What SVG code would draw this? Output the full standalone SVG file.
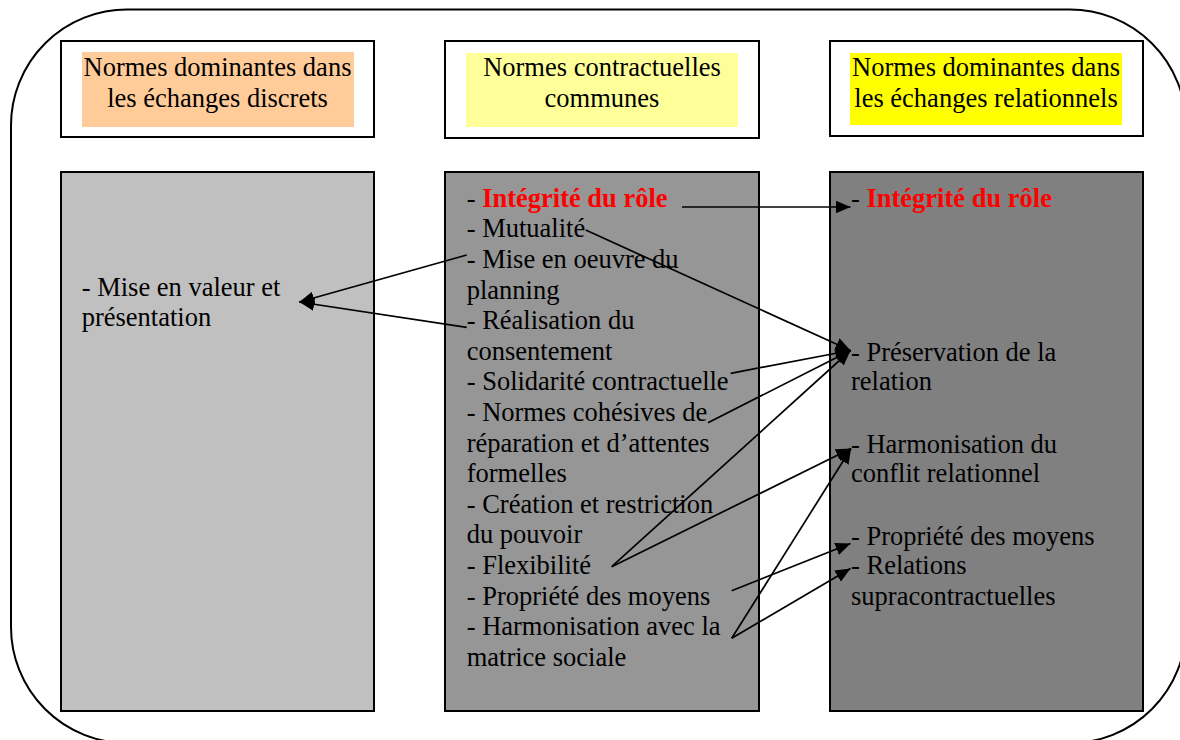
<svg xmlns="http://www.w3.org/2000/svg" width="1180" height="740" viewBox="0 0 1180 740">
<style>
.t{font-family:"Liberation Serif","Times New Roman",serif;font-size:26.5px;fill:#000}
.h{text-anchor:middle}
.red{fill:#FF0000;font-weight:bold}
.box{stroke:#000;stroke-width:2}
.c{stroke:#000;stroke-width:1.7;fill:none;marker-end:url(#ah)}
</style>
<defs>
<marker id="ah" markerUnits="userSpaceOnUse" markerWidth="16" markerHeight="14" refX="15" refY="6.5" orient="auto">
<path d="M0,0 L15,6.5 L0,13 z" fill="#000"/>
</marker>
</defs>
<rect x="11" y="9.5" width="1175" height="733.5" rx="116" ry="116" fill="#fff" stroke="#000" stroke-width="2"/>

<g id="header-discrets">
<rect class="box" x="61" y="41" width="313" height="96" fill="#fff"/>
<rect x="82" y="52" width="272" height="75" fill="#FFCC99"/>
<text class="t h" x="217.5" y="76">Normes dominantes dans</text>
<text class="t h" x="217.5" y="106.6">les échanges discrets</text>
</g>
<g id="header-communes">
<rect class="box" x="445" y="41" width="314" height="97" fill="#fff"/>
<rect x="466" y="53" width="272" height="74" fill="#FFFF99"/>
<text class="t h" x="602" y="76">Normes contractuelles</text>
<text class="t h" x="602" y="106.6">communes</text>
</g>
<g id="header-relationnels">
<rect class="box" x="830" y="41" width="313" height="95" fill="#fff"/>
<rect x="850" y="53" width="272" height="72" fill="#FFFF00"/>
<text class="t h" x="986" y="76">Normes dominantes dans</text>
<text class="t h" x="986" y="106.6">les échanges relationnels</text>
</g>

<g id="col-discrets">
<rect class="box" x="61" y="172" width="313" height="539" fill="#C0C0C0"/>
<text class="t" x="81.7" y="295.5">- Mise en valeur et</text>
<text class="t" x="81.7" y="326">présentation</text>
</g>

<g id="col-communes">
<rect class="box" x="445" y="172" width="314" height="539" fill="#969696"/>
<text class="t" x="466.7" y="206.7">- <tspan class="red">Intégrité du rôle</tspan></text>
<text class="t" x="466.7" y="237.3">- Mutualité</text>
<text class="t" x="466.7" y="267.9">- Mise en oeuvre du</text>
<text class="t" x="466.7" y="298.5">planning</text>
<text class="t" x="466.7" y="329.1">- Réalisation du</text>
<text class="t" x="466.7" y="359.7">consentement</text>
<text class="t" x="466.7" y="390.3">- Solidarité contractuelle</text>
<text class="t" x="466.7" y="420.9">- Normes cohésives de</text>
<text class="t" x="466.7" y="451.5">réparation et d’attentes</text>
<text class="t" x="466.7" y="482.1">formelles</text>
<text class="t" x="466.7" y="512.7">- Création et restriction</text>
<text class="t" x="466.7" y="543.3">du pouvoir</text>
<text class="t" x="466.7" y="573.9">- Flexibilité</text>
<text class="t" x="466.7" y="604.5">- Propriété des moyens</text>
<text class="t" x="466.7" y="635.1">- Harmonisation avec la</text>
<text class="t" x="466.7" y="665.7">matrice sociale</text>
</g>

<g id="col-relationnels">
<rect class="box" x="830" y="172" width="313" height="539" fill="#808080"/>
<text class="t" x="851" y="206.7">- <tspan class="red">Intégrité du rôle</tspan></text>
<text class="t" x="851" y="361">- Préservation de la</text>
<text class="t" x="851" y="390.3">relation</text>
<text class="t" x="851" y="452.5">- Harmonisation du</text>
<text class="t" x="851" y="482.1">conflit relationnel</text>
<text class="t" x="851" y="544.5">- Propriété des moyens</text>
<text class="t" x="851" y="573.9">- Relations</text>
<text class="t" x="851" y="604.5">supracontractuelles</text>
</g>

<g id="connectors">
<line class="c" x1="682" y1="207" x2="850.5" y2="207"/>
<line class="c" x1="585.7" y1="230" x2="850.5" y2="350.5"/>
<line class="c" x1="730.7" y1="373.3" x2="850.5" y2="350.5"/>
<line class="c" x1="708" y1="422.7" x2="850.5" y2="350.5"/>
<line class="c" x1="611.7" y1="566.7" x2="850.5" y2="350.5"/>
<line class="c" x1="611.7" y1="566.7" x2="851" y2="448.5"/>
<line class="c" x1="731.7" y1="638.3" x2="851" y2="448.5"/>
<line class="c" x1="731.7" y1="590.7" x2="850.5" y2="543.5"/>
<line class="c" x1="731.7" y1="638.3" x2="850.5" y2="568.5"/>
<line class="c" x1="466.7" y1="255" x2="299.3" y2="302"/>
<line class="c" x1="466.7" y1="327.3" x2="299.3" y2="302"/>
</g>
</svg>
